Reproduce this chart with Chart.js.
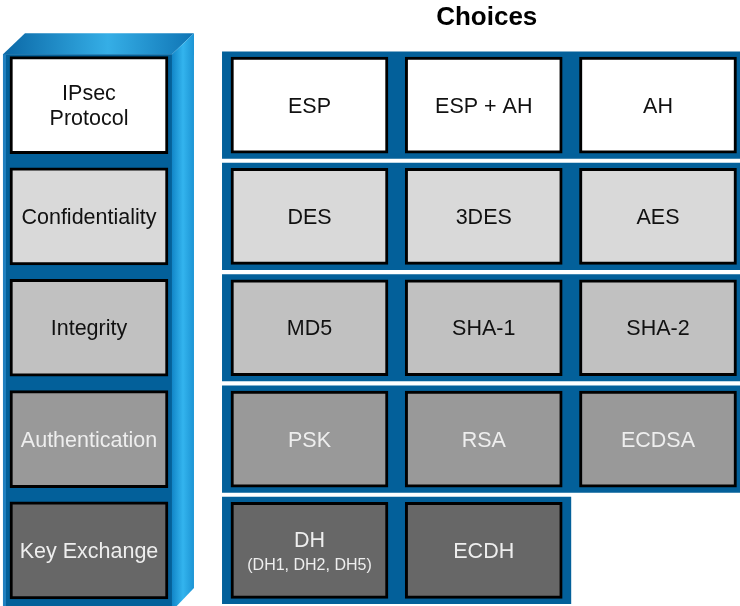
<!DOCTYPE html>
<html>
<head>
<meta charset="utf-8">
<script src="https://cdn.jsdelivr.net/npm/chart.js@4.4.1/dist/chart.umd.min.js"></script>
<style>
  html, body { margin: 0; padding: 0; background: #fff; }
  canvas { display: block; }
</style>
</head>
<body>
<canvas id="ipsec" width="740" height="606"></canvas>
<script>
const title = "Choices";
const rows = ["IPsec\nProtocol", "Confidentiality", "Integrity", "Authentication", "Key Exchange"];
const choices = [
  ["ESP", "ESP + AH", "AH"],
  ["DES", "3DES", "AES"],
  ["MD5", "SHA-1", "SHA-2"],
  ["PSK", "RSA", "ECDSA"],
  ["DH", "ECDH"],
];
const choiceNotes = [[], [], [], [], ["(DH1, DH2, DH5)"]];
const rowFills = ["#ffffff", "#d9d9d9", "#c1c1c1", "#999999", "#676767"];
const textColors = ["#111111", "#111111", "#111111", "#eeeeee", "#eeeeee"];

// layout (column units on the x scale)
const LEFT_COL = -1.2654;
const BOX_HALF = 0.4505;
const LEFT_HALF = 0.4534;
const PANEL_BLUE = "#03609a";
const FONT = "'Liberation Sans', Arial, Helvetica, sans-serif";

const ctx = document.getElementById("ipsec").getContext("2d");

// 3D blue column behind the left labels, plus all the text
const columnPlugin = {
  id: "column",
  beforeDatasetsDraw(chart) {
    const { ctx, scales: { x, y } } = chart;
    const cx = x.getPixelForValue(LEFT_COL);
    const fl = cx - 86, fr = cx + 83;
    const ft = y.getPixelForValue(0) - 51;
    const fb = chart.height;
    const d = 22;
    ctx.save();
    ctx.fillStyle = PANEL_BLUE;
    ctx.fillRect(fl, ft, fr - fl, fb - ft);
    ctx.fillStyle = "#2080c0";
    ctx.fillRect(fl, ft, 3, fb - ft);

    let g = ctx.createLinearGradient(fl, 0, fr + d, 0);
    g.addColorStop(0, "#0b68a6");
    g.addColorStop(0.55, "#35aee6");
    g.addColorStop(1, "#0f74b4");
    ctx.fillStyle = g;
    ctx.beginPath();
    ctx.moveTo(fl, ft);
    ctx.lineTo(fl + d, ft - d + 1);
    ctx.lineTo(fr + d, ft - d + 1);
    ctx.lineTo(fr, ft);
    ctx.closePath();
    ctx.fill();

    g = ctx.createLinearGradient(fr, 0, fr + d, 0);
    g.addColorStop(0, "#1286c8");
    g.addColorStop(0.5, "#33b4ee");
    g.addColorStop(1, "#1c94d4");
    ctx.fillStyle = g;
    ctx.beginPath();
    ctx.moveTo(fr, ft);
    ctx.lineTo(fr + d, ft - d + 1);
    ctx.lineTo(fr + d, fb - 18);
    ctx.lineTo(fr, fb + 5);
    ctx.closePath();
    ctx.fill();
    ctx.restore();
  },
  afterDatasetsDraw(chart) {
    const { ctx, scales: { x, y } } = chart;
    ctx.save();
    ctx.textAlign = "center";
    ctx.textBaseline = "alphabetic";

    const size = 21.5;
    const cap = size * 0.358;
    const cx = x.getPixelForValue(LEFT_COL);
    rows.forEach((label, i) => {
      const yc = y.getPixelForValue(i);
      const lines = label.split("\n");
      ctx.font = `${size}px ${FONT}`;
      ctx.fillStyle = textColors[i];
      lines.forEach((line, j) => {
        const off = (j - (lines.length - 1) / 2) * 25;
        ctx.fillText(line, cx, yc + off + cap);
      });
    });

    choices.forEach((row, i) => {
      const yc = y.getPixelForValue(i);
      row.forEach((label, k) => {
        const xc = x.getPixelForValue(k);
        const note = choiceNotes[i][k];
        ctx.fillStyle = textColors[i];
        ctx.font = `${size}px ${FONT}`;
        if (note) {
          ctx.fillText(label, xc, yc - 11 + cap);
          ctx.font = `16px ${FONT}`;
          ctx.fillText(note, xc, yc + 14 + 16 * 0.358);
        } else {
          ctx.fillText(label, xc, yc + cap);
        }
      });
    });

    ctx.font = `bold 26px ${FONT}`;
    ctx.fillStyle = "#000";
    ctx.fillText(title, x.getPixelForValue(1) + 3, 25);
    ctx.restore();
  },
};

const boxDataset = (k) => ({
  label: "choice " + (k + 1),
  data: choices.map((row) => (row[k] ? [k - BOX_HALF, k + BOX_HALF] : null)),
  backgroundColor: rowFills,
  borderColor: "#000",
  borderWidth: 3,
  borderSkipped: false,
  barThickness: 96,
  grouped: false,
  order: 1,
});

new Chart(ctx, {
  type: "bar",
  data: {
    labels: rows,
    datasets: [
      {
        label: "panel",
        data: choices.map((row) => [-0.5, row.length - 0.5]),
        backgroundColor: PANEL_BLUE,
        borderWidth: 0,
        barThickness: 106.5,
        grouped: false,
        order: 3,
      },
      {
        label: "parameter",
        data: rows.map(() => [LEFT_COL - LEFT_HALF, LEFT_COL + LEFT_HALF]),
        backgroundColor: rowFills,
        borderColor: "#000",
        borderWidth: 3,
        borderSkipped: false,
        barThickness: 97,
        grouped: false,
        order: 2,
      },
      boxDataset(0),
      boxDataset(1),
      boxDataset(2),
    ],
  },
  options: {
    indexAxis: "y",
    responsive: false,
    animation: false,
    events: [],
    layout: { padding: { top: 49.5, left: 0, right: 0, bottom: 0 } },
    scales: {
      x: { type: "linear", min: -1.776, max: 2.4706, display: false },
      y: { type: "category", offset: true, display: false },
    },
    plugins: {
      legend: { display: false },
      tooltip: { enabled: false },
    },
  },
  plugins: [columnPlugin],
});
</script>
</body>
</html>
